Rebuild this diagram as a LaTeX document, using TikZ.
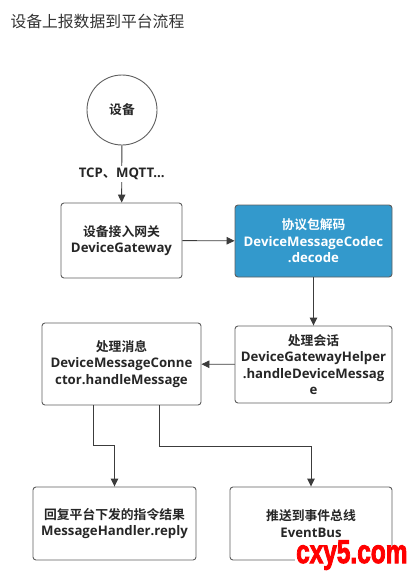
\documentclass[tikz,border=0pt]{standalone}
\usepackage{fontspec}
\setmainfont{Open Sans}[BoldFont={* Bold}]
\newfontfamily\cjk{Noto Sans CJK SC}[BoldFont={* Bold}]
\newfontfamily\wmfont{Liberation Sans Bold}[FakeBold=3]
\usetikzlibrary{arrows.meta,calc}
\definecolor{edgegray}{HTML}{3C3C3C}
\definecolor{boxgray}{HTML}{5E5E5E}
\definecolor{codecblue}{HTML}{3399CC}
\definecolor{titlegray}{HTML}{333333}
\tikzset{
  box/.style={draw=boxgray, line width=0.9pt, rounded corners=3pt, align=center,
    font=\fontsize{13.2}{16.5}\selectfont\bfseries, text=black!85, inner sep=0pt},
  cj/.style={},
  conn/.style={draw=edgegray, line width=0.9pt, -{Triangle[length=8pt,width=7.5pt]}},
}
\newcommand{\cjl}[1]{{\cjk\fontsize{12.8}{16.5}\selectfont #1}}
\begin{document}
\begin{tikzpicture}[x=1pt,y=-1pt]
\useasboundingbox (0,0) rectangle (415,573);
\node[anchor=west, text=titlegray, font=\cjk\fontsize{15.8}{18}\selectfont] (title) at (7,21.5) {设备上报数据到平台流程};
\node[draw=boxgray, line width=0.9pt, circle, minimum size=70pt, inner sep=0pt,
  font=\cjk\fontsize{12.8}{16}\selectfont\bfseries, text=black!85] (dev) at (122,110) {设备};
\node[box, minimum width=121pt, minimum height=75pt] (b1) at (121.5,240.5) {\cjl{设备接入网关}\\DeviceGateway};
\node[box, fill=codecblue, text=white, minimum width=157pt, minimum height=72pt] (b2) at (313.5,241) {\cjl{协议包解码}\\DeviceMessageCodec\\.decode};
\node[box, minimum width=157pt, minimum height=77pt] (b3) at (313.5,364.5) {\cjl{处理会话}\\DeviceGatewayHelper\\.handleDeviceMessag\\e};
\node[box, minimum width=159pt, minimum height=82pt] (b4) at (121.5,364) {\cjl{处理消息}\\DeviceMessageConne\\ctor.handleMessage};
\node[box, minimum width=163pt, minimum height=73pt] (b5) at (114.5,523.5) {\cjl{回复平台下发的指令结果}\\MessageHandler.reply};
\node[box, minimum width=162pt, minimum height=73pt] (b6) at (311,523.5) {\cjl{推送到事件总线}\\EventBus};
\draw[conn] (dev) -- (b1) node[midway, fill=white, inner sep=2pt, text=black!85,
  font=\fontsize{13.2}{16}\selectfont\bfseries] (lbl) {TCP{\cjk 、}MQTT...};
\draw[conn] (b1) -- (b2);
\draw[conn] (b2) -- (b3);
\draw[conn] (b3) -- (b4);
\draw[conn] (93,0 |- b4.south) -- (93,445) -| (b5.north);
\draw[conn] (159,0 |- b4.south) -- (159,446) -| (b6.north);
\fill[white] (295,546) rectangle (412,570);
\node[anchor=base west, text=red, font=\wmfont\fontsize{33}{33}\selectfont, xscale=0.74, inner sep=0pt] (wm) at (296,563) {cxy5.com};
\end{tikzpicture}
\end{document}
